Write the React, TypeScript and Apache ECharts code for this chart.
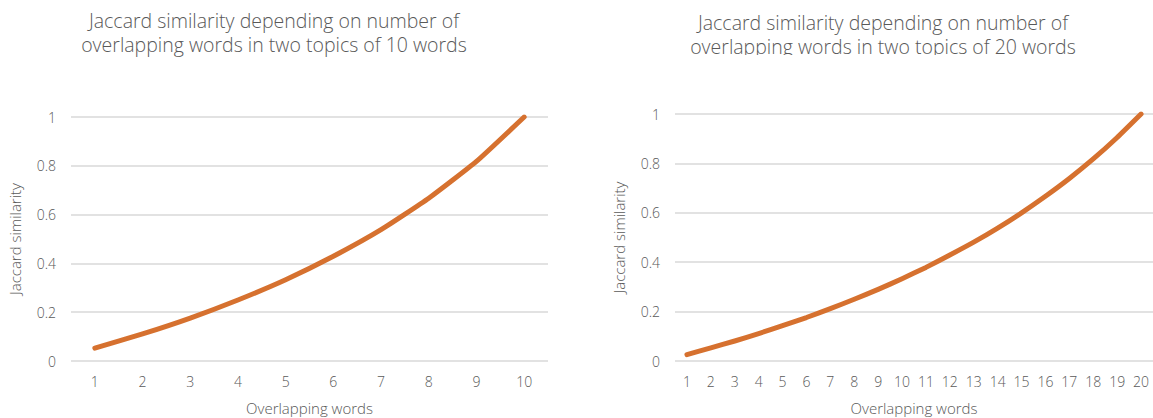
import React, { useEffect, useRef } from "react";
import * as echarts from "echarts";

// Overlapping word counts (x categories) and the resulting Jaccard similarity
const words10 = ["1", "2", "3", "4", "5", "6", "7", "8", "9", "10"];
const similarity10 = [0.053, 0.111, 0.176, 0.25, 0.333, 0.429, 0.538, 0.667, 0.818, 1];

const words20 = [
  "1", "2", "3", "4", "5", "6", "7", "8", "9", "10",
  "11", "12", "13", "14", "15", "16", "17", "18", "19", "20",
];
const similarity20 = [
  0.026, 0.053, 0.081, 0.111, 0.143, 0.176, 0.212, 0.25, 0.29, 0.333,
  0.379, 0.429, 0.481, 0.538, 0.6, 0.667, 0.739, 0.818, 0.905, 1,
];

const title10 = "Jaccard similarity depending on number of\noverlapping words in two topics of 10 words";
const title20 = "Jaccard similarity depending on number of\noverlapping words in two topics of 20 words";
const xName = "Overlapping words";
const yName = "Jaccard similarity";

const FONT = "'Open Sans', Lato, sans-serif";
const TEXT = "#595959";
const GRID_LINE = "#D9D9D9";
const LINE = "#D6712F";

function xAxis(gridIndex: number, data: string[]) {
  return {
    type: "category",
    gridIndex,
    data,
    boundaryGap: true,
    name: xName,
    nameLocation: "middle",
    nameGap: 39,
    nameTextStyle: { color: TEXT, fontSize: 15, fontFamily: FONT, fontWeight: 300 },
    axisLine: { show: false },
    axisTick: { show: false },
    axisLabel: { color: TEXT, fontSize: 14, fontFamily: FONT, fontWeight: 300, margin: 13, interval: 0 },
  };
}

function yAxis(gridIndex: number) {
  return {
    type: "value",
    gridIndex,
    min: 0,
    max: 1,
    interval: 0.2,
    name: yName,
    nameLocation: "middle",
    nameGap: 49,
    nameRotate: 90,
    nameTextStyle: { color: TEXT, fontSize: 15, fontFamily: FONT, fontWeight: 300 },
    axisLine: { show: false },
    axisTick: { show: false },
    axisLabel: { color: TEXT, fontSize: 14, fontFamily: FONT, fontWeight: 300, margin: 15 },
    splitLine: { lineStyle: { color: GRID_LINE, width: 1.5 } },
  };
}

function lineSeries(index: number, data: number[]) {
  return {
    type: "line",
    xAxisIndex: index,
    yAxisIndex: index,
    data,
    showSymbol: false,
    smooth: 0.15,
    lineStyle: { color: LINE, width: 5, cap: "round", join: "round" },
  };
}

export default function App() {
  const ref = useRef<HTMLDivElement>(null);

  useEffect(() => {
    if (!ref.current) return;
    const chart = echarts.init(ref.current, null, { renderer: "svg" });
    const titleStyle = {
      color: TEXT,
      fontSize: 19.5,
      fontFamily: FONT,
      fontWeight: 300,
      lineHeight: 24,
    };
    chart.setOption({
      animation: false,
      backgroundColor: "#ffffff",
      title: [
        { text: title10, left: 274, top: 8, textAlign: "center", padding: 0, textStyle: { ...titleStyle, align: "center" } },
        { text: title20, left: 883, top: 10, textAlign: "center", padding: 0, textStyle: { ...titleStyle, align: "center" } },
      ],
      graphic: [
        {
          // the lower edge of the right-hand title is cropped
          type: "rect",
          z: 100,
          shape: { x: 600, y: 55, width: 553, height: 20 },
          style: { fill: "#ffffff" },
        },
      ],
      grid: [
        { left: 71, top: 117, width: 477, height: 244, outerBoundsMode: "none", containLabel: false },
        { left: 675, top: 114, width: 478, height: 247, outerBoundsMode: "none", containLabel: false },
      ],
      xAxis: [xAxis(0, words10), xAxis(1, words20)],
      yAxis: [yAxis(0), yAxis(1)],
      series: [lineSeries(0, similarity10), lineSeries(1, similarity20)],
    });
    return () => chart.dispose();
  }, []);

  return (
    <div
      ref={ref}
      style={{ position: "fixed", left: 0, top: 0, width: 1153, height: 418 }}
    />
  );
}
